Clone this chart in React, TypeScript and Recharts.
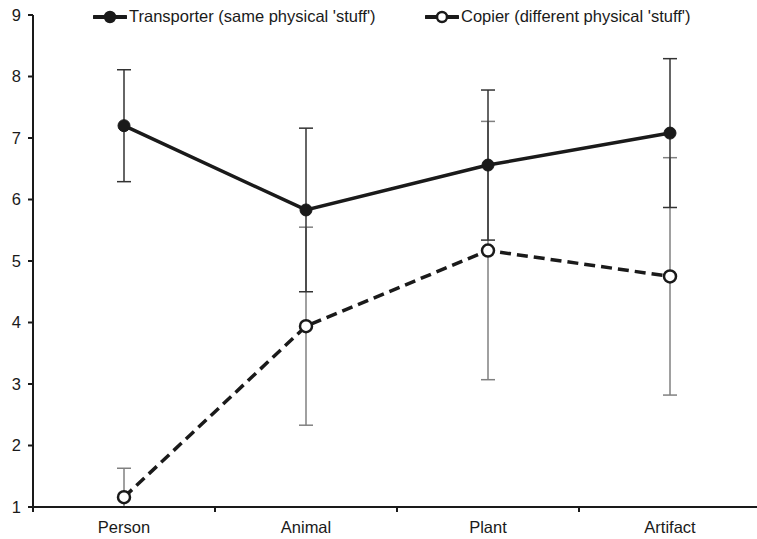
import { ErrorBar, Legend, Line, LineChart, XAxis, YAxis } from 'recharts';

const categories = ['Person', 'Animal', 'Plant', 'Artifact'];
const transporterMeans = [7.2, 5.83, 6.56, 7.08];
const transporterErrors = [0.91, 1.33, 1.22, 1.21];
const copierMeans = [1.16, 3.94, 5.17, 4.75];
const copierErrors = [0.47, 1.61, 2.1, 1.93];
const yTicks = [1, 2, 3, 4, 5, 6, 7, 8, 9];
const xTicks = [0, 0.5, 1, 1.5, 2, 2.5, 3, 3.5, 4];

const transporterLabel = "Transporter (same physical 'stuff')";
const copierLabel = "Copier (different physical 'stuff')";

const Y_MIN = yTicks[0];

// error bars are cut at the bottom of the axis, like in the original figure
const clipErr = (mean: number, err: number) => [Math.min(err, mean - Y_MIN), err];

const data = categories.map((name, i) => ({
  pos: i + 0.5,
  name,
  transporter: transporterMeans[i],
  tErr: clipErr(transporterMeans[i], transporterErrors[i]),
  copier: copierMeans[i],
  cErr: clipErr(copierMeans[i], copierErrors[i]),
}));

const FONT = '"Liberation Sans", Arial, sans-serif';
const INK = '#1a1a1a';

function CategoryTick(props: any) {
  const { x, y, payload } = props;
  const v = payload.value as number;
  if (Number.isInteger(v)) {
    return <line x1={x} x2={x} y1={y} y2={y + 5} stroke={INK} strokeWidth={2} />;
  }
  return (
    <text x={x} y={y + 26} textAnchor="middle" fill={INK} fontSize={16.5} fontFamily={FONT}>
      {categories[Math.floor(v)]}
    </text>
  );
}

function LegendIcon({ filled }: { filled: boolean }) {
  return (
    <svg width={34} height={14} style={{ display: 'block' }}>
      <line x1={1} x2={33} y1={7} y2={7} stroke={INK} strokeWidth={4} strokeLinecap="round" />
      <circle cx={17} cy={7} r={5} fill={filled ? INK : '#fff'} stroke={INK} strokeWidth={2.5} />
    </svg>
  );
}

function renderLegend() {
  const item = (left: number, filled: boolean, label: string) => (
    <div
      style={{
        position: 'absolute',
        left,
        top: 0,
        display: 'flex',
        alignItems: 'center',
        whiteSpace: 'nowrap',
        fontFamily: FONT,
        fontSize: 16.5,
        color: INK,
      }}
    >
      <LegendIcon filled={filled} />
      <span style={{ marginLeft: 2 }}>{label}</span>
    </div>
  );
  return (
    <div style={{ position: 'relative', width: 700, height: 20 }}>
      {item(0, true, transporterLabel)}
      {item(332, false, copierLabel)}
    </div>
  );
}

export default function App() {
  return (
    <div style={{ position: 'absolute', left: 0, top: 0, width: 757, height: 539, overflow: 'hidden', background: '#fff' }}>
      <LineChart width={765} height={539} data={data} margin={{ top: 15, right: 4, bottom: 0, left: 0 }}>
        <XAxis
          type="number"
          dataKey="pos"
          domain={[0, 4]}
          ticks={xTicks}
          interval={0}
          tickLine={false}
          tickSize={0}
          tickMargin={0}
          height={32}
          axisLine={{ stroke: INK, strokeWidth: 2 }}
          tick={<CategoryTick />}
        />
        <YAxis
          type="number"
          domain={[1, 9]}
          ticks={yTicks}
          interval={0}
          allowDataOverflow
          width={33}
          tickSize={5}
          tickMargin={7}
          axisLine={{ stroke: INK, strokeWidth: 2 }}
          tickLine={{ stroke: INK, strokeWidth: 2 }}
          tick={{ fill: INK, fontSize: 16.5, fontFamily: FONT }}
        />
        <Legend
          layout="vertical"
          align="center"
          verticalAlign="middle"
          content={renderLegend}
          wrapperStyle={{ left: 93, top: 7, width: 700, height: 20 }}
        />
        <Line
          dataKey="copier"
          stroke={INK}
          strokeWidth={3.5}
          strokeDasharray="11 6"
          isAnimationActive={false}
          dot={{ r: 6, fill: '#fff', stroke: INK, strokeWidth: 2.5, strokeDasharray: '' }}
          activeDot={false}
        >
          <ErrorBar dataKey="cErr" direction="y" width={7} stroke="#808080" strokeWidth={1.5} />
        </Line>
        <Line
          dataKey="transporter"
          stroke={INK}
          strokeWidth={3.5}
          isAnimationActive={false}
          dot={{ r: 6, fill: INK, stroke: INK, strokeWidth: 1 }}
          activeDot={false}
        >
          <ErrorBar dataKey="tErr" direction="y" width={7} stroke="#333" strokeWidth={1.5} />
        </Line>
      </LineChart>
    </div>
  );
}
